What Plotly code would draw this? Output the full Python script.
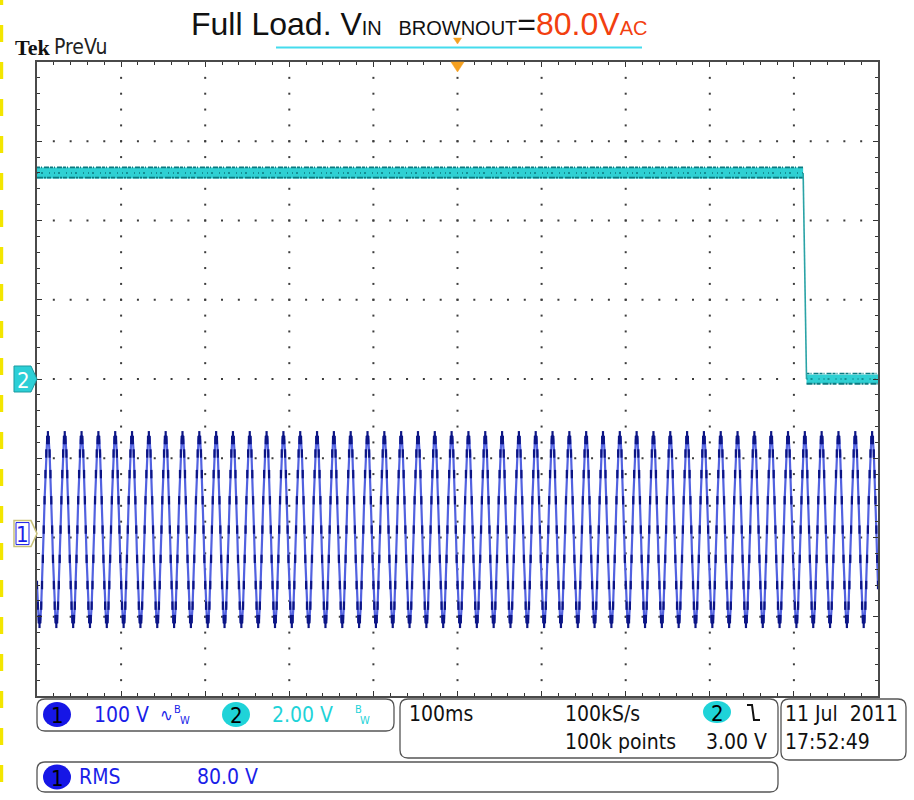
import plotly.graph_objects as go

# ---------------- acquisition settings ----------------
time_range_ms = [-500, 500]          # 10 divisions of 100 ms, trigger centred
ms_per_div = 100
sample_rate = "100kS/s"
record_len = "100k points"
trigger_time_ms = 0
trigger_level_v = 3.00
date_text = "11 Jul\u00a0\u00a02011"
time_text = "17:52:49"

# channel 1 : AC input, 100 V/div, ground 1.9 div below centre
ch1_volts_per_div = 100
ch1_position_div = -1.9
ch1_rms_v = 80.0
# one 20 ms mains period, 1 ms steps (volts), starting at the left edge
ch1_cycle_v = [-70, -96, -113, -119, -113, -96, -70, -37, 0, 37,
               70, 96, 113, 119, 113, 96, 70, 37, 0, -37]
ch1_cycles = 50

# channel 2 : output, 2 V/div, ground at centre
ch2_volts_per_div = 2.0
ch2_position_div = 0.0
ch2_high_t_ms = [-500, 411]
ch2_high_v = [5.2, 5.2]
ch2_edge_t_ms = [411, 415]
ch2_edge_v = [5.2, 0.0]
ch2_low_t_ms = [415, 500]
ch2_low_v = [0.0, 0.0]

# ---------------- page geometry ----------------
W, H = 914, 800
ML, MR, MT, MB = 37, 36, 62, 104
PW = W - ML - MR
PH = H - MT - MB
NDIV_X, NDIV_Y = 10, 8

BLUE = "#1a1ee8"
CYAN = "#1fd3d8"
RED = "#f2400f"
ORANGE = "#f5a020"
NARROW = "DejaVu Sans Condensed, Liberation Sans Narrow, Arial Narrow, sans-serif"
RO_SIZE = 21


def px(x):
    return (x - ML) / PW


def py(y):
    return (H - MB - y) / PH


def t_to_px(t):
    return ML + (t - time_range_ms[0]) / (time_range_ms[1] - time_range_ms[0]) * PW


def div_to_py(d):
    return MT + (NDIV_Y / 2 - d) * PH / NDIV_Y


def ch1_div(v):
    return [x / ch1_volts_per_div + ch1_position_div for x in v]


def ch2_div(v):
    return [x / ch2_volts_per_div + ch2_position_div for x in v]


fig = go.Figure()

# ---- graticule dots along every major division line ----
x0, x1 = time_range_ms
minor_t = ms_per_div / 5
gx, gy = [], []
for i in range(1, NDIV_X):
    t = x0 + i * ms_per_div
    for k in range(1, NDIV_Y * 5):
        gx.append(t)
        gy.append(-NDIV_Y / 2 + k * 0.2)
for j in range(1, NDIV_Y):
    d = -NDIV_Y / 2 + j
    for k in range(1, NDIV_X * 5):
        gx.append(x0 + k * minor_t)
        gy.append(d)
fig.add_trace(go.Scatter(x=gx, y=gy, mode="markers",
                         marker=dict(symbol="square", size=2, color="#3c3c3c"),
                         hoverinfo="skip", showlegend=False))

# ---- channel 1 : mains input ----
ch1_t = list(range(time_range_ms[0], time_range_ms[0] + ch1_cycles * len(ch1_cycle_v) + 1))
ch1_v = [ch1_cycle_v[i % len(ch1_cycle_v)] for i in range(len(ch1_t))]
fig.add_trace(go.Scatter(x=ch1_t, y=ch1_div(ch1_v), mode="lines",
                         line=dict(color="#5262e0", width=2.2),
                         hoverinfo="skip", showlegend=False))
fig.add_trace(go.Scatter(x=ch1_t, y=ch1_div(ch1_v), mode="markers",
                         marker=dict(symbol="line-ns", size=6,
                                     line=dict(width=2.2, color="#0c1585")),
                         hoverinfo="skip", showlegend=False))

# ---- channel 2 : output voltage ----
for tt, vv, w in [(ch2_high_t_ms, ch2_high_v, 11), (ch2_low_t_ms, ch2_low_v, 9)]:
    fig.add_trace(go.Scatter(x=tt, y=ch2_div(vv), mode="lines",
                             line=dict(color="#2fd0d3", width=w),
                             hoverinfo="skip", showlegend=False))
    for off, dash, lw in ((0.14, "3px,1px,1px,2px,5px,1px", 1.6),
                          (0.0, "1px,3px,2px,6px,1px,4px", 1.4),
                          (-0.12, "6px,1px,2px,1px,4px,2px", 1.8)):
        fig.add_trace(go.Scatter(x=tt, y=ch2_div([v + off for v in vv]), mode="lines",
                                 line=dict(color="#0c7a80", width=lw, dash=dash),
                                 hoverinfo="skip", showlegend=False))
fig.add_trace(go.Scatter(x=ch2_edge_t_ms, y=ch2_div(ch2_edge_v), mode="lines",
                         line=dict(color="#2aa3a6", width=1.6),
                         hoverinfo="skip", showlegend=False))

shapes = []
ann = []


def poly(points, fill, line, lw=1.0):
    p = "M " + " L ".join(f"{px(x):.5f},{py(y):.5f}" for x, y in points) + " Z"
    shapes.append(dict(type="path", xref="paper", yref="paper", path=p,
                       fillcolor=fill, line=dict(color=line, width=lw)))


def rrect(xa, ya, xb, yb, r=8, color="#555", lw=1.3):
    def P(x, y):
        return f"{px(x):.5f},{py(y):.5f}"
    p = (f"M {P(xa + r, ya)} L {P(xb - r, ya)} Q {P(xb, ya)} {P(xb, ya + r)} "
         f"L {P(xb, yb - r)} Q {P(xb, yb)} {P(xb - r, yb)} L {P(xa + r, yb)} "
         f"Q {P(xa, yb)} {P(xa, yb - r)} L {P(xa, ya + r)} Q {P(xa, ya)} {P(xa + r, ya)} Z")
    shapes.append(dict(type="path", xref="paper", yref="paper", path=p,
                       line=dict(color=color, width=lw)))


def text(s, x, y, color="#111", size=RO_SIZE, anchor="left", family=NARROW, yanchor="middle"):
    ann.append(dict(text=s, x=px(x), y=py(y), xref="paper", yref="paper",
                    xanchor=anchor, yanchor=yanchor, showarrow=False,
                    font=dict(family=family, size=size, color=color)))


def badge(label, cx, cy, fill, rx=14, ry=12.5):
    shapes.append(dict(type="circle", xref="paper", yref="paper",
                       x0=px(cx - rx), x1=px(cx + rx), y0=py(cy + ry), y1=py(cy - ry),
                       fillcolor=fill, line=dict(width=0)))
    text(label, cx, cy + 1, color="#000", size=22, anchor="center")


# yellow dashed strip on the left page edge
shapes.append(dict(type="line", xref="paper", yref="paper",
                   x0=px(1.6), x1=px(1.6), y0=py(-12), y1=py(812),
                   line=dict(color="#f3e600", width=3.2, dash="17px,20px")))

# title and underline
text("Full Load. V<span style='font-size:20px'>IN&nbsp;&nbsp;&nbsp;BROWNOUT</span>="
     f"<span style='color:{RED}'>{ch1_rms_v:.1f}V</span>"
     f"<span style='color:{RED};font-size:20px'>AC</span>",
     419, 24, size=32, anchor="center", family="Liberation Sans, Arial, sans-serif")
shapes.append(dict(type="line", xref="paper", yref="paper",
                   x0=px(276), x1=px(642), y0=py(47.5), y1=py(47.5),
                   line=dict(color="#45dced", width=2)))

# Tek PreVu header
text("<b>Tek</b>", 13, 48, color="#111", size=22, family="Liberation Serif, serif")
text("PreVu", 52, 47, color="#222", size=21)

# trigger position markers
tx = t_to_px(trigger_time_ms)
poly([(tx - 4, 38), (tx + 4, 38), (tx, 44)], ORANGE, ORANGE, 0.5)
poly([(tx - 6.5, 62), (tx + 6.5, 62), (tx, 72)], ORANGE, ORANGE, 0.5)

# channel ground markers
y2 = div_to_py(ch2_position_div)
poly([(14, y2 - 13), (31, y2 - 13), (37, y2), (31, y2 + 13), (14, y2 + 13)],
     "#2ccfd6", "#1b9aa0", 1)
text("2", 23, y2 + 1, color="#fff", size=22, anchor="center")
y1 = div_to_py(ch1_position_div) + 4
poly([(14, y1 - 13), (31, y1 - 13), (37, y1), (31, y1 + 13), (14, y1 + 13)],
     "#ffffff", "#c9c27a", 1.5)
poly([(16, y1 - 11), (29, y1 - 11), (29, y1 + 11), (16, y1 + 11)],
     "rgba(0,0,0,0)", BLUE, 1)
text("1", 22.5, y1 + 1, color=BLUE, size=22, anchor="center")

# readout boxes
rrect(37, 699, 394, 731)
rrect(400, 699, 778, 758)
rrect(781, 699, 906, 760)
rrect(37, 762, 778, 792)

badge("1", 57, 714.5, "#1616e6")
text(f"{ch1_volts_per_div:.0f} V", 92, 715, color=BLUE)
text("\u223f", 158, 715, color=BLUE, size=17)
text("B", 172, 709, color=BLUE, size=11)
text("W", 178, 720, color=BLUE, size=11)
badge("2", 236, 714.5, CYAN)
text(f"{ch2_volts_per_div:.2f} V", 270, 715, color=CYAN)
text("B", 353, 709, color=CYAN, size=11)
text("W", 358, 720, color=CYAN, size=11)

text(f"{ms_per_div}ms", 407, 714)
text(sample_rate, 563, 714)
text(record_len, 563, 742)
badge("2", 717, 712, CYAN, rx=14, ry=11)
shapes.append(dict(type="path", xref="paper", yref="paper",
                   path=f"M {px(747):.5f},{py(705):.5f} L {px(752):.5f},{py(705):.5f} "
                        f"L {px(754):.5f},{py(720):.5f} L {px(760):.5f},{py(720):.5f}",
                   line=dict(color="#111", width=2)))
text(f"{trigger_level_v:.2f} V", 769, 742, anchor="right")
text(date_text, 783, 714)
text(time_text, 783, 742)

badge("1", 57, 777, "#1616e6")
text("RMS", 77, 777, color=BLUE)
text(f"{ch1_rms_v:.1f} V", 195, 777, color=BLUE)

axis_common = dict(showgrid=False, zeroline=False, showline=True, linecolor="#4a4a4a",
                   linewidth=2, mirror="ticks", ticks="inside", ticklen=5,
                   tickcolor="#333", tickwidth=1, showticklabels=False, fixedrange=True)
fig.update_layout(
    width=W, height=H,
    margin=dict(l=ML, r=MR, t=MT, b=MB, pad=0),
    paper_bgcolor="white", plot_bgcolor="white",
    xaxis=dict(range=time_range_ms, tick0=time_range_ms[0], dtick=ms_per_div,
               minor=dict(ticks="inside", dtick=minor_t, ticklen=3, tickcolor="#333"),
               **axis_common),
    yaxis=dict(range=[-NDIV_Y / 2, NDIV_Y / 2], tick0=-NDIV_Y / 2, dtick=1,
               minor=dict(ticks="inside", dtick=0.2, ticklen=3, tickcolor="#333"),
               **axis_common),
    shapes=shapes, annotations=ann, showlegend=False,
)

fig.write_html("out.html")
